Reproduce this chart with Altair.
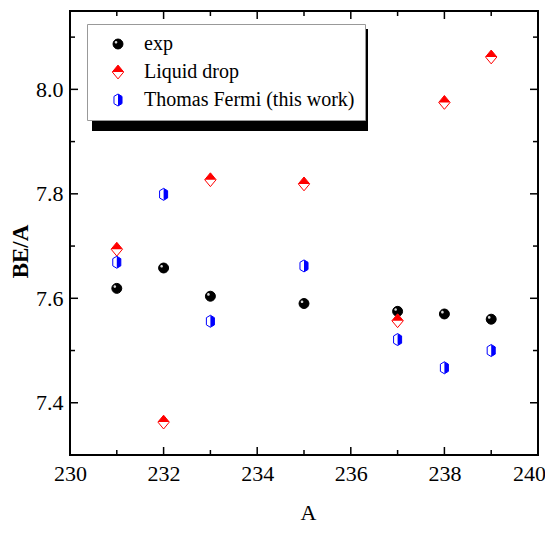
import altair as alt
import pandas as pd

# ---- data ----
mass_numbers = [231, 232, 233, 235, 237, 238, 239]
be_exp = [7.619, 7.658, 7.604, 7.590, 7.575, 7.570, 7.560]
be_liquid_drop = [7.694, 7.363, 7.827, 7.819, 7.557, 7.975, 8.062]
be_thomas_fermi = [7.669, 7.799, 7.556, 7.662, 7.521, 7.467, 7.500]
series_names = ["exp", "Liquid drop", "Thomas Fermi (this work)"]

x_major = [230, 232, 234, 236, 238, 240]
x_minor = [231, 233, 235, 237, 239]
y_major = [7.4, 7.6, 7.8, 8.0]
y_minor = [7.5, 7.7, 7.9, 8.1]

rows = []
for name, vals in zip(series_names, [be_exp, be_liquid_drop, be_thomas_fermi]):
    for a, v in zip(mass_numbers, vals):
        rows.append({"A": a, "BE": v, "series": name})
df = pd.DataFrame(rows)

W, H = 468, 444
FONT = "Liberation Serif"
LABEL_FONT = "Times New Roman"
xs = alt.Scale(domain=[230, 240], nice=False, zero=False)
ys = alt.Scale(domain=[7.3, 8.15], nice=False, zero=False)

x_axis = alt.Axis(
    values=x_major, title="A", ticks=False, domain=False, grid=False,
    labelFlush=False, labelOverlap=False, labelPadding=8,
    labelFont=LABEL_FONT, labelFontSize=22, labelColor="black",
    labelOffset={"condition": {"test": "datum.value == 240", "value": -9}, "value": 0},
    titleFont=FONT, titleFontSize=22, titleColor="black", titleFontWeight="normal",
    titleX=238, titleY=64, titleBaseline="alphabetic",
)
y_axis = alt.Axis(
    values=y_major, format=".1f", title="BE/A", ticks=False, domain=False, grid=False,
    labelPadding=7, labelFont=LABEL_FONT, labelFontSize=22, labelColor="black",
    titleFont=FONT, titleFontSize=23, titleColor="black", titleFontWeight="bold",
    titleX=-50, titleY=240, titleBaseline="middle",
)

# symbol paths (unit coordinates)
circle = "M-0.83,0A0.83,0.83,0,1,0,0.83,0A0.83,0.83,0,1,0,-0.83,0Z"
diamond = "M0,-1.15L0.95,0L0,1.15L-0.95,0Z"
hexagon = "M0,-1L0.67,-0.6L0.67,0.6L0,1L-0.67,0.6L-0.67,-0.6Z"
highlight = "M-0.55,-0.3A0.22,0.22,0,1,0,-0.11,-0.3A0.22,0.22,0,1,0,-0.55,-0.3Z"
diamond_top = "M-0.95,0L0,-1.15L0.95,0Z"
hex_right = "M0,-1L0.67,-0.6L0.67,0.6L0,1Z"

LX, LY = 17, 13

legend1 = alt.Legend(
    orient="none", legendX=LX, legendY=LY, title=None,
    labelFont=FONT, labelFontSize=20, labelColor="black", labelLimit=0,
    fillColor="white", strokeColor="#999999",
    padding=10, rowPadding=8, labelOffset=16, symbolOffset=11,
    symbolSize=144, symbolStrokeWidth=1, symbolOpacity=1,
)
legend2 = alt.Legend(
    orient="none", legendX=LX, legendY=LY, title=None,
    labelFont=FONT, labelFontSize=20, labelOpacity=0, labelLimit=0,
    padding=10, rowPadding=8, labelOffset=16, symbolOffset=11,
    symbolSize=144, symbolStrokeWidth=0, symbolOpacity=1,
)

pts_outline = alt.Chart(df).mark_point(filled=True, size=144, strokeWidth=1, opacity=1).encode(
    x=alt.X("A:Q", scale=xs, axis=x_axis),
    y=alt.Y("BE:Q", scale=ys, axis=y_axis),
    shape=alt.Shape("series:N", scale=alt.Scale(domain=series_names, range=[circle, diamond, hexagon]), legend=legend1),
    fill=alt.Fill("series:N", scale=alt.Scale(domain=series_names, range=["black", "white", "white"]), legend=legend1),
    stroke=alt.Stroke("series:N", scale=alt.Scale(domain=series_names, range=["black", "#ff0000", "#0000ff"]), legend=legend1),
)
pts_half = alt.Chart(df).mark_point(filled=True, size=144, strokeWidth=0, opacity=1).encode(
    x=alt.X("A:Q", scale=xs, axis=x_axis),
    y=alt.Y("BE:Q", scale=ys, axis=y_axis),
    shape=alt.Shape("series:N", scale=alt.Scale(domain=series_names, range=[highlight, diamond_top, hex_right]), legend=legend2),
    fill=alt.Fill("series:N", scale=alt.Scale(domain=series_names, range=["#d8d8d8", "#ff0000", "#0000ff"]), legend=legend2),
)


def xticks(vals, length, top):
    d = pd.DataFrame({"A": vals})
    if top:
        yy, yy2 = alt.value(0), alt.value(length)
    else:
        yy, yy2 = alt.value(H), alt.value(H - length)
    return alt.Chart(d).mark_rule(color="black", strokeWidth=1.5).encode(
        x=alt.X("A:Q", scale=xs, axis=x_axis), y=yy, y2=yy2)


def yticks(vals, length, right):
    d = pd.DataFrame({"BE": vals})
    if right:
        xx, xx2 = alt.value(W), alt.value(W - length)
    else:
        xx, xx2 = alt.value(0), alt.value(length)
    return alt.Chart(d).mark_rule(color="black", strokeWidth=1.5).encode(
        y=alt.Y("BE:Q", scale=ys, axis=y_axis), x=xx, x2=xx2)


ticks = [
    xticks(x_major, 8, False), xticks(x_minor, 5, False),
    xticks(x_major, 8, True), xticks(x_minor, 5, True),
    yticks(y_major, 8, False), yticks(y_minor, 5, False),
    yticks(y_major, 8, True), yticks(y_minor, 5, True),
]

shadow = alt.Chart(pd.DataFrame({"k": [0]})).mark_rect(color="black").encode(
    x=alt.value(LX + 5), x2=alt.value(LX + 281),
    y=alt.value(LY + 5), y2=alt.value(LY + 107),
)

chart = alt.layer(pts_outline, pts_half, *ticks).resolve_scale(
    shape="independent", fill="independent", stroke="independent"
)
chart = alt.layer(shadow, chart).properties(
    width=W, height=H,
    background="white",
    autosize=alt.AutoSizeParams(type="none"),
    padding={"left": 62, "top": 3, "right": 7, "bottom": 70},
).configure(
    font=FONT,
).configure_view(
    stroke="black", strokeWidth=2
)

chart.save("out.html", embed_options={"renderer": "svg", "actions": False})
